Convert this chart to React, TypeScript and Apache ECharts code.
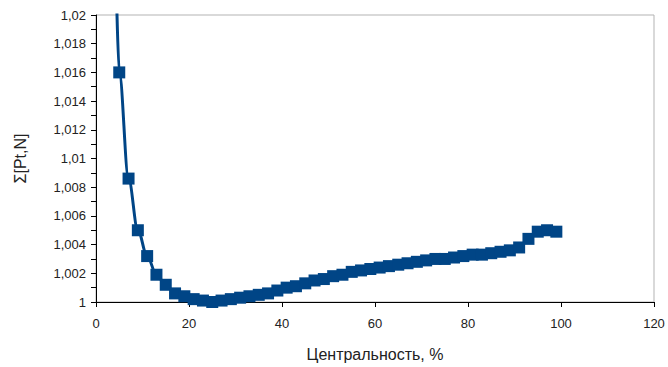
import React, { useEffect, useRef } from "react";
import * as echarts from "echarts";

const centrality = [5, 7, 9, 11, 13, 15, 17, 19, 21, 23, 25, 27, 29, 31, 33, 35, 37, 39, 41, 43, 45, 47, 49, 51, 53, 55, 57, 59, 61, 63, 65, 67, 69, 71, 73, 75, 77, 79, 81, 83, 85, 87, 89, 91, 93, 95, 97, 99];
const sumValues = [1.016, 1.0086, 1.005, 1.0032, 1.0019, 1.0012, 1.0006, 1.0004, 1.0002, 1.0001, 1.0, 1.0001, 1.0002, 1.0003, 1.0004, 1.0005, 1.0006, 1.0008, 1.001, 1.0011, 1.0013, 1.0015, 1.0016, 1.0018, 1.0019, 1.0021, 1.0022, 1.0023, 1.0024, 1.0025, 1.0026, 1.0027, 1.0028, 1.0029, 1.003, 1.003, 1.0031, 1.0032, 1.0033, 1.0033, 1.0034, 1.0035, 1.0036, 1.0038, 1.0044, 1.0049, 1.005, 1.0049];
const curveStart = [4.5, 1.0202];
const xTicks = { min: 0, max: 120, interval: 20 };
const yTicks = { min: 1, max: 1.02, interval: 0.002 };

const COLOR = "#004586";
const FONT = "Liberation Sans";

export default function App() {
  const ref = useRef<HTMLDivElement>(null);
  useEffect(() => {
    const chart = echarts.init(ref.current!, null, { renderer: "svg" });
    const points = centrality.map((x, i) => [x, sumValues[i]]);
    chart.setOption({
      animation: false,
      textStyle: { fontFamily: FONT },
      grid: {
        left: 96,
        right: 14,
        top: 15,
        bottom: 63,
        show: true,
        borderColor: "#b3b3b3",
        borderWidth: 1,
      },
      xAxis: {
        type: "value",
        min: xTicks.min,
        max: xTicks.max,
        interval: xTicks.interval,
        name: "Центральность, %",
        nameLocation: "middle",
        nameGap: 44,
        nameTextStyle: { fontSize: 16, color: "#222", fontFamily: FONT },
        axisLine: { show: true, lineStyle: { color: "#000", width: 1 } },
        axisTick: { show: true, inside: false, length: 5, lineStyle: { color: "#000" } },
        axisLabel: { fontSize: 13, color: "#222", margin: 15, fontFamily: FONT },
        splitLine: { show: false },
      },
      yAxis: {
        type: "value",
        min: yTicks.min,
        max: yTicks.max,
        interval: yTicks.interval,
        name: "Σ[Pt,N]",
        nameLocation: "middle",
        nameGap: 68,
        nameTextStyle: { fontSize: 16, color: "#222", fontFamily: FONT },
        axisLine: { show: true, lineStyle: { color: "#000", width: 1 } },
        axisTick: { show: true, inside: false, length: 5, lineStyle: { color: "#000" } },
        minorTick: { show: true, splitNumber: 2, length: 5, lineStyle: { color: "#000" } },
        axisLabel: {
          fontSize: 13,
          color: "#222",
          margin: 10,
          fontFamily: FONT,
          formatter: (v: number) => v.toFixed(3).replace(/\.?0+$/, "").replace(".", ","),
        },
        splitLine: { show: false },
        minorSplitLine: { show: false },
      },
      series: [
        {
          type: "line",
          data: [{ value: curveStart, symbol: "none" }, ...points],
          smooth: 0.35,
          smoothMonotone: "x",
          clip: true,
          symbol: "rect",
          symbolSize: 12,
          showAllSymbol: true,
          lineStyle: { color: COLOR, width: 3 },
          itemStyle: { color: COLOR },
        },
      ],
    });
    return () => chart.dispose();
  }, []);
  return (
    <div
      ref={ref}
      style={{ position: "absolute", left: 0, top: 0, width: 668, height: 367, background: "#fff" }}
    />
  );
}
